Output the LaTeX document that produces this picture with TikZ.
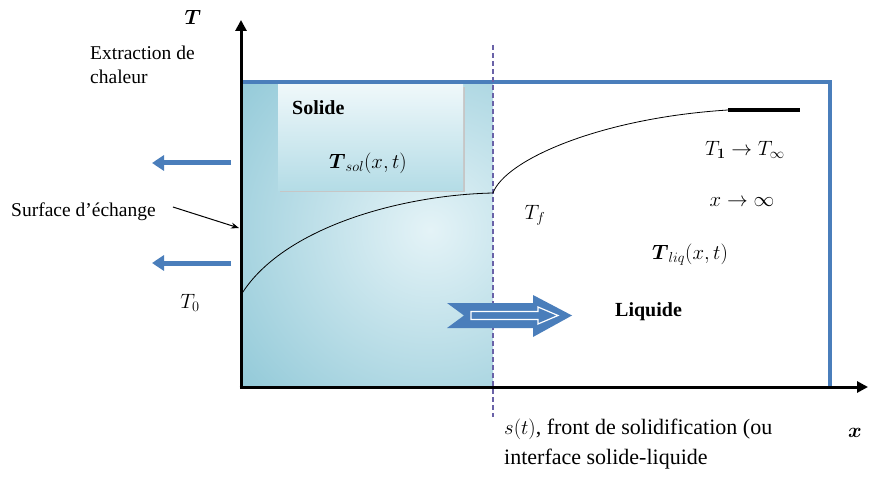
\documentclass[tikz,border=0pt]{standalone}
\usepackage{fontspec}
\setmainfont{Liberation Serif}
\usepackage{amsmath}
\usetikzlibrary{arrows.meta}
\usepackage{xcolor}
\definecolor{FrameBlue}{HTML}{4A7EBB}
\definecolor{IceLight}{HTML}{E4F3F7}
\definecolor{IceMid}{HTML}{B4DCE6}
\definecolor{IceDark}{HTML}{82C1D2}
\definecolor{FrontPurple}{HTML}{6A62A8}

\begin{document}
\begin{tikzpicture}[x=1pt,y=-1pt,
    lbl/.style={font=\fontsize{19.5}{24}\selectfont,inner sep=1pt,align=left},
    mth/.style={font=\fontsize{21}{24}\selectfont,inner sep=1pt},
    bold/.style={font=\fontsize{20}{22}\selectfont\bfseries},
    heatflow/.style={-{Triangle[length=12pt,width=15pt]},line width=5pt,FrameBlue},
    axisline/.style={-{Triangle[length=11pt,width=11pt]},line width=3pt}]
  \useasboundingbox (0,0) rectangle (869,489);
  % solid zone
  \begin{scope}
    \clip (241,82) rectangle (493,386);
    \shade[inner color=IceLight,outer color=IceDark] (130,-60) rectangle (730,520);
  \end{scope}
  \fill[gray!45] (280,87) rectangle (465,192);
  \shade[top color=IceLight!60!white,bottom color=IceMid] (278,85) rectangle (463,190);
  % frame of the bath
  \draw[FrameBlue,line width=4pt] (241,82) -- (830,82) -- (830,386);
  % front
  \draw[FrontPurple,line width=1.2pt,dash pattern=on 5pt off 3pt] (493,45) -- (493,417);
  % axes
  \coordinate (orig) at (241,387);
  \coordinate (ttop) at (241,20);
  \coordinate (xend) at (868,387);
  \draw[axisline] ([yshift=-1.5pt]orig) -- (ttop);
  \draw[axisline] ([xshift=-1.5pt]orig) -- (xend);
  \node[mth] (tlab) at (193,17) {$\boldsymbol{T}$};
  \node[mth] (xlab) at (855,433) {$\boldsymbol{x}$};
  % temperature profile
  \coordinate (tzero) at (241,295);
  \coordinate (tfront) at (493,193);
  \coordinate (tfar) at (728,110);
  \draw[line width=0.8pt] (tzero) .. controls (282,228) and (400,195) .. (tfront)
    .. controls (505,160) and (600,118) .. (tfar);
  \draw[line width=4pt] (tfar) -- (800,110);
  % heat extraction
  \node[lbl,anchor=north west] (extract) at (89,45) {Extraction de\\chaleur};
  \coordinate (flowa) at (231,163);
  \coordinate (flowb) at (231,263);
  \draw[heatflow] (flowa) -- ++(-79,0);
  \draw[heatflow] (flowb) -- ++(-79,0);
  \node[lbl,anchor=west] (surf) at (10,212) {Surface d'échange};
  \coordinate (wall) at (239,228);
  \draw[-{Stealth[length=8pt,width=6pt]},line width=1pt] ([xshift=16pt,yshift=5pt]surf.east) -- (wall);
  \node[mth] (tz) at (190,303) {$T_0$};
  % solid labels
  \node[lbl,bold,anchor=west] (solide) at (291,108) {Solide};
  \node[mth] (tsol) at (368,163) {$\boldsymbol{T}_{sol}(x,t)$};
  % liquid labels
  \node[mth] (tf) at (535,215) {$T_f$};
  \node[mth] (tinf) at (745,150) {$T_{\boldsymbol{1}}\rightarrow T_\infty$};
  \node[mth] (xinf) at (742,202) {$x\rightarrow\infty$};
  \node[mth] (tliq) at (690,255) {$\boldsymbol{T}_{liq}(x,t)$};
  \node[lbl,bold,anchor=west] (liq) at (614,312) {Liquide};
  % moving front arrow
  \fill[FrameBlue] (447,303) -- (533,303) -- (533,295) -- (572,315.5) -- (533,337)
    -- (533,328) -- (447,328) -- (464,315.5) -- cycle;
  \draw[white,line width=1.2pt] (471,311.5) -- (538,311.5) -- (538,307) -- (558,315.5)
    -- (538,324) -- (538,319.5) -- (471,319.5) -- cycle;
  % front label
  \node[lbl,anchor=north west,font=\fontsize{22}{30}\selectfont] (front) at (503,418)
    {$s(t)$, front de solidification (ou\\interface solide-liquide};
\end{tikzpicture}
\end{document}
